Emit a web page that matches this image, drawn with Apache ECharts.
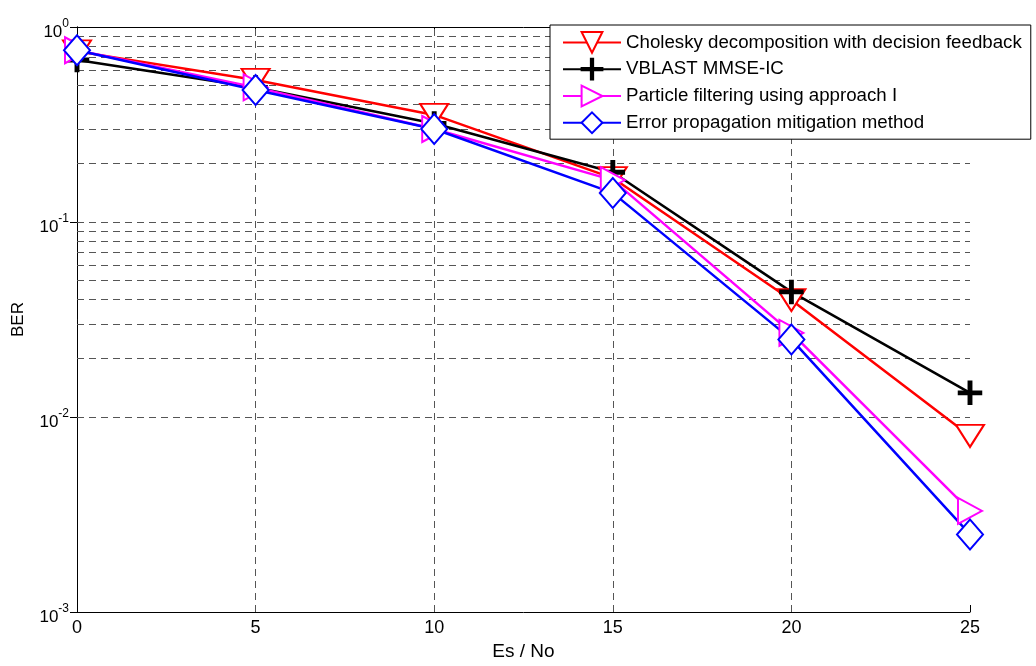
<!DOCTYPE html>
<html><head><meta charset="utf-8">
<script src="https://cdn.jsdelivr.net/npm/echarts@6/dist/echarts.min.js"></script>
<style>html,body{margin:0;padding:0;background:#fff}#c{width:1036px;height:666px}</style>
</head><body><div id="c"></div>
<script>
const snr = [0, 5, 10, 15, 20, 25];
const cholesky = [0.75, 0.535, 0.354, 0.168, 0.0398, 0.008];
const vblast = [0.677, 0.49, 0.32, 0.18, 0.0438, 0.0133];
const particle = [0.76, 0.49, 0.30, 0.164, 0.027, 0.0033];
const errprop = [0.76, 0.475, 0.30, 0.141, 0.025, 0.0025];
const names = ['Cholesky decomposition with decision feedback', 'VBLAST MMSE-IC', 'Particle filtering using approach I', 'Error propagation mitigation method'];
const minorGrid = [];
[0.001, 0.01, 0.1].forEach(d => { for (let m = 2; m <= 9; m++) minorGrid.push(+(m * d).toPrecision(3)); });
minorGrid.push(0.01, 0.1);
const xGrid = [5, 10, 15, 20];

const font = 'Liberation Sans, Arial, sans-serif';
const plus = 'path://M-1.2,-11h2.4v22h-2.4z M-11,-1.2h22v2.4h-22z';
const dash = [7, 5];
const chart = echarts.init(document.getElementById('c'));
const mk = (name, data, color, symbol, rot, size) => ({
  name, type: 'line', data: snr.map((x, i) => [x, data[i]]), color,
  symbol, symbolSize: size, symbolRotate: rot,
  lineStyle: { width: 2.5, color }, itemStyle: { color, borderColor: color, borderWidth: 2.5 },
  z: 5
});
chart.setOption({
  animation: false,
  textStyle: { fontFamily: font },
  grid: { left: 77, right: 66, top: 27, bottom: 54, show: false, containLabel: false, outerBoundsMode: 'none' },
  xAxis: [{
    type: 'value', min: 0, max: 25, interval: 5,
    axisLine: { lineStyle: { color: '#000', width: 1 } },
    axisTick: { inside: true, length: 7, lineStyle: { color: '#000' } },
    axisLabel: { color: '#000', fontSize: 18, fontFamily: font, margin: 7 },
    splitLine: { show: false },
    name: 'Es / No', nameLocation: 'middle', nameGap: 30,
    nameTextStyle: { color: '#000', fontSize: 19, fontFamily: font }
  }, {
    type: 'value', min: 0, max: 25, interval: 5, position: 'top',
    axisLine: { lineStyle: { color: '#000' } },
    axisTick: { inside: true, length: 7, lineStyle: { color: '#000' } },
    axisLabel: { show: false }, splitLine: { show: false }
  }],
  yAxis: [{
    type: 'log', min: 0.001, max: 1, logBase: 10,
    axisLine: { show: true, lineStyle: { color: '#000' } },
    axisTick: { show: true, inside: true, length: 7, lineStyle: { color: '#000' } },
    splitLine: { show: false },
    axisLabel: {
      color: '#000', margin: 8,
      formatter: v => '{b|10}{s|' + Math.round(Math.log10(v)) + '}',
      rich: { b: { fontSize: 17, fontFamily: font, color: '#000', padding: [10, 0, 0, 0] }, s: { fontSize: 12, fontFamily: font, color: '#000', padding: [0, 0, 6, 0] } }
    },
    name: 'BER', nameLocation: 'middle', nameGap: 50, nameRotate: 90,
    nameTextStyle: { color: '#000', fontSize: 17, fontFamily: font }
  }, {
    type: 'log', min: 0.001, max: 1, logBase: 10, position: 'right',
    axisLine: { show: true, lineStyle: { color: '#000' } },
    axisTick: { show: true, inside: true, length: 7, lineStyle: { color: '#000' } },
    axisLabel: { show: false }, splitLine: { show: false }
  }],
  legend: {
    left: 550, top: 25, orient: 'vertical', backgroundColor: '#fff', zlevel: 2,
    borderColor: '#000', borderWidth: 1, padding: [6, 9, 5, 12], itemGap: 4,
    itemWidth: 58, itemHeight: 26,
    textStyle: { fontSize: 18.7, fontFamily: font, color: '#000' },
    data: names
  },
  series: [
    {
      type: 'line', data: [], silent: true, symbol: 'none', z: 1,
      markLine: {
        silent: true, symbol: 'none', animation: false, label: { show: false },
        lineStyle: { type: dash, color: '#555', width: 1 },
        data: minorGrid.map(v => ({ yAxis: v })).concat(xGrid.map(v => ({ xAxis: v })))
      }
    },
    mk(names[0], cholesky, '#ff0000', 'emptyTriangle', 180, [28, 22]),
    mk(names[1], vblast, '#000000', plus, 0, 22),
    mk(names[2], particle, '#ff00ff', 'emptyTriangle', -90, [26, 24]),
    mk(names[3], errprop, '#0000ff', 'emptyDiamond', 0, [26, 30])
  ]
});
</script></body></html>
